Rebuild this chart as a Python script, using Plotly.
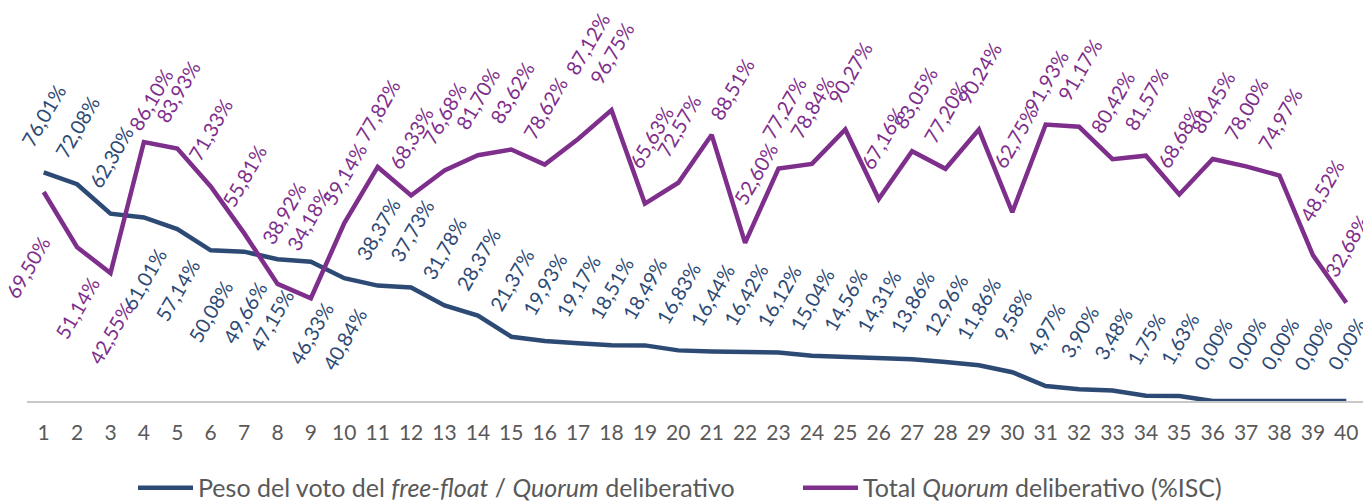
import plotly.graph_objects as go

# ---- data ----
cases = list(range(1, 41))
peso_free_float = [76.01, 72.08, 62.30, 61.01, 57.14, 50.08, 49.66, 47.15, 46.33, 40.84,
                   38.37, 37.73, 31.78, 28.37, 21.37, 19.93, 19.17, 18.51, 18.49, 16.83,
                   16.44, 16.42, 16.12, 15.04, 14.56, 14.31, 13.86, 12.96, 11.86, 9.58,
                   4.97, 3.90, 3.48, 1.75, 1.63, 0.00, 0.00, 0.00, 0.00, 0.00]
total_quorum = [69.50, 51.14, 42.55, 86.10, 83.93, 71.33, 55.81, 38.92, 34.18, 59.14,
                77.82, 68.33, 76.68, 81.70, 83.62, 78.62, 87.12, 96.75, 65.63, 72.57,
                88.51, 52.60, 77.27, 78.84, 90.27, 67.16, 83.05, 77.20, 90.24, 62.75,
                91.93, 91.17, 80.42, 81.57, 68.68, 80.45, 78.00, 74.97, 48.52, 32.68]
tick_labels = [str(c) for c in cases]
name_peso = "Peso del voto del <i>free-float</i> / <i>Quorum</i> deliberativo"
name_total = "Total <i>Quorum</i> deliberativo (%ISC)"

# ---- styles ----
BLUE = "#2d4a75"
PURPLE = "#7e2f8c"
FONT = "Lato"
UP, DOWN = 57, -61

# label placement (pixel offsets of the label centre from its point)
peso_dy = {c: (UP if (c <= 3 or c >= 11) else DOWN) for c in cases}
peso_dy[9] = -71
peso_dx = {8: -6}
total_dy = {c: UP for c in cases}
total_dy.update({1: -75, 2: DOWN, 3: -60, 4: 43, 8: 71, 9: 79, 10: 49, 17: 95, 19: 67,
                 21: 46, 22: 69, 23: 61, 26: 61, 27: 53, 30: 75, 31: 44, 39: 65})
total_dx = {1: -16, 4: 7, 8: 6, 9: -2, 17: 9, 19: 6, 21: 20, 22: 10, 23: 5, 25: 4,
            26: 4, 27: 3, 30: 3, 39: 9}


def fmt(v):
    return f"{v:.2f}".replace(".", ",") + "%"


fig = go.Figure()
fig.add_trace(go.Scatter(x=cases, y=peso_free_float, mode="lines", name=name_peso,
                         line=dict(color=BLUE, width=4.5), cliponaxis=False, legend="legend"))
fig.add_trace(go.Scatter(x=cases, y=total_quorum, mode="lines", name=name_total,
                         line=dict(color=PURPLE, width=4.5), cliponaxis=False, legend="legend2"))

annotations = []
for c, v in zip(cases, peso_free_float):
    annotations.append(dict(x=c, y=v, xref="x", yref="y", text=fmt(v), showarrow=False,
                            textangle=-60, xanchor="center", yanchor="middle",
                            xshift=peso_dx.get(c, 0), yshift=peso_dy[c],
                            font=dict(family=FONT, size=20, color=BLUE)))
for c, v in zip(cases, total_quorum):
    annotations.append(dict(x=c, y=v, xref="x", yref="y", text=fmt(v), showarrow=False,
                            textangle=-60, xanchor="center", yanchor="middle",
                            xshift=total_dx.get(c, 0), yshift=total_dy[c],
                            font=dict(family=FONT, size=20, color=PURPLE)))

legend_common = dict(orientation="h", xref="container", yref="container", y=0.028,
                     xanchor="left", yanchor="middle", font=dict(size=25, color="#595959"),
                     itemwidth=55, bgcolor="rgba(0,0,0,0)")

fig.update_layout(
    width=1363, height=502,
    margin=dict(l=27, r=0, t=10, b=101, autoexpand=False),
    paper_bgcolor="white", plot_bgcolor="white",
    font=dict(family=FONT, color="#595959"),
    annotations=annotations,
    showlegend=True,
    legend=dict(x=133 / 1363, **legend_common),
    legend2=dict(x=798 / 1363, **legend_common),
    xaxis=dict(range=[0.5, 40.5], tickmode="array", tickvals=cases, ticktext=tick_labels,
               showgrid=False, zeroline=False, showline=True, linecolor="#c8c8c8", linewidth=2,
               ticks="outside", ticklen=12, tickcolor="rgba(0,0,0,0)",
               tickfont=dict(size=21, color="#595959", family=FONT), fixedrange=True),
    yaxis=dict(range=[0, 130], showgrid=False, zeroline=False, showline=False,
               showticklabels=False, ticks="", fixedrange=True),
)

fig.write_html("out.html", config={"displayModeBar": False},
               post_script="document.body.style.margin='0';document.body.style.overflow='hidden';")
